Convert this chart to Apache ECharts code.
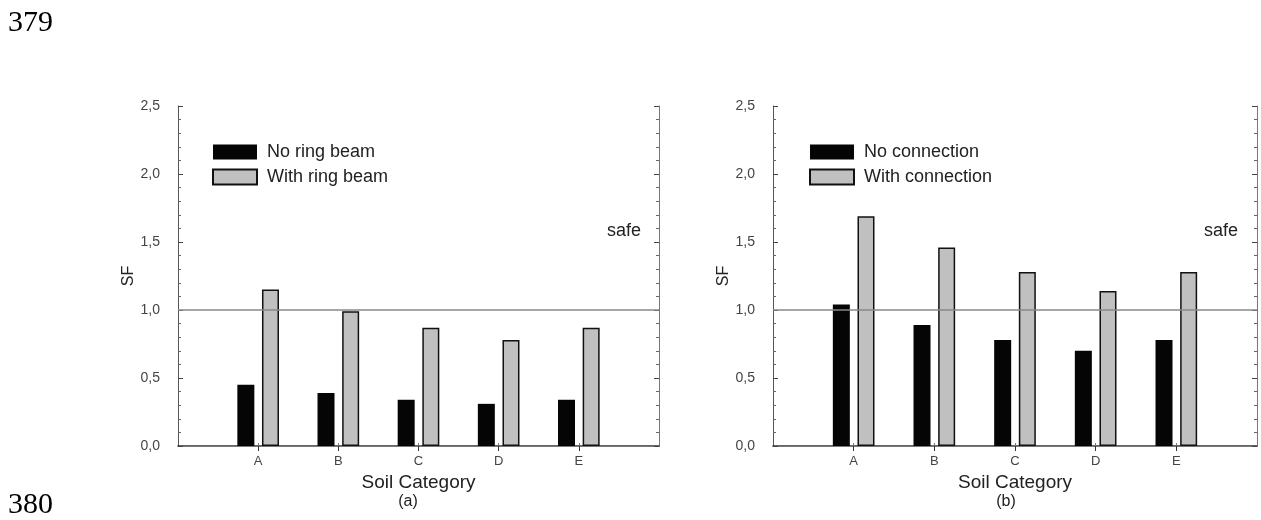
<!DOCTYPE html>
<html>
<head>
<meta charset="utf-8">
<script src="https://cdn.jsdelivr.net/npm/echarts@6/dist/echarts.min.js"></script>
<style>html,body{margin:0;padding:0;background:#fff}#c{width:1261px;height:520px}</style>
</head>
<body>
<div id="c"></div>
<script>
// ---- data ----
var categories = ['A', 'B', 'C', 'D', 'E'];
var yTicks = [0, 0.5, 1.0, 1.5, 2.0, 2.5];
var noRingBeam = [0.45, 0.39, 0.34, 0.31, 0.34];
var withRingBeam = [1.15, 0.99, 0.87, 0.78, 0.87];
var noConnection = [1.04, 0.89, 0.78, 0.70, 0.78];
var withConnection = [1.69, 1.46, 1.28, 1.14, 1.28];
var seriesNamesA = ['No ring beam', 'With ring beam'];
var seriesNamesB = ['No connection', 'With connection'];
var safeLevel = 1.0;

// padded category list (empty slots at both ends of the axis)
var cats = [''].concat(categories, ['']);
function pad(a) { return [null].concat(a, [null]); }

var chart = echarts.init(document.getElementById('c'), null, {renderer: 'canvas'});
var FONT = 'Liberation Sans, Arial, sans-serif';
var grids = [
  {left: 178, top: 106, width: 481, height: 340},
  {left: 773, top: 106, width: 484, height: 340}
];

function xBottom(gi) {
  return {
    type: 'category', gridIndex: gi, data: cats, boundaryGap: false, position: 'bottom',
    name: 'Soil Category', nameLocation: 'middle', nameGap: 25,
    nameTextStyle: {fontFamily: FONT, fontSize: 19, color: '#222'},
    axisLine: {show: true, lineStyle: {color: '#333', width: 1.5}},
    axisTick: {show: true, inside: true, length: 3, lineStyle: {color: '#777'},
      interval: function (i) { return i > 0 && i < cats.length - 1; }},
    axisLabel: {interval: 0, margin: 9, fontFamily: FONT, fontSize: 13, color: '#444'},
    splitLine: {show: false}
  };
}
function xTop(gi) {
  return {
    type: 'category', gridIndex: gi, data: cats, boundaryGap: false, position: 'top',
    axisLine: {show: true, lineStyle: {color: '#777', width: 1}},
    axisTick: {show: true, inside: true, length: 5, lineStyle: {color: '#333'},
      interval: function (i) { return i > 0 && i < cats.length - 1; }},
    axisLabel: {show: false}, splitLine: {show: false}
  };
}
function yAx(gi, pos) {
  var left = pos === 'left';
  return {
    type: 'value', gridIndex: gi, position: pos, min: yTicks[0], max: yTicks[yTicks.length - 1], interval: 0.5,
    name: left ? 'SF' : '', nameLocation: 'middle', nameGap: 41, nameRotate: 90,
    nameTextStyle: {fontFamily: FONT, fontSize: 16, color: '#222'},
    axisLine: {show: true, lineStyle: {color: left ? '#555' : '#777', width: 1}},
    axisTick: {show: true, inside: true, length: 5, lineStyle: {color: '#444'}},
    minorTick: {show: true, splitNumber: 5, length: 3, lineStyle: {color: '#666'}},
    axisLabel: {show: left, margin: 18, fontFamily: FONT, fontSize: 14, color: '#444',
      formatter: function (v) { return v.toFixed(1).replace('.', ','); }},
    splitLine: {show: false}, minorSplitLine: {show: false}
  };
}

function bars(name, data, gi, gray, withLine) {
  var s = {
    name: name, type: 'bar', xAxisIndex: gi * 2, yAxisIndex: gi * 2,
    data: pad(data), barWidth: 17, barGap: '45%',
    itemStyle: gray ? {color: '#c0c0c0', borderColor: '#111', borderWidth: 1.5}
                    : {color: '#050505', borderColor: '#050505', borderWidth: 0},
    emphasis: {disabled: true}, animation: false
  };
  if (withLine) {
    s.markLine = {
      silent: true, symbol: ['none', 'none'], label: {show: false},
      lineStyle: {color: '#888', width: 1.5, type: 'solid'},
      data: [{yAxis: safeLevel}]
    };
  }
  return s;
}

function legend(gi, names, left) {
  return {
    show: true, orient: 'vertical', left: left, top: 143, padding: 0,
    itemWidth: 44, itemHeight: 15, itemGap: 7,
    icon: 'rect', data: names, selectedMode: false,
    textStyle: {fontFamily: FONT, fontSize: 18, color: '#222', padding: [0, 0, 0, 5]}
  };
}

var option = {
  animation: false,
  backgroundColor: '#fff',
  grid: grids,
  xAxis: [xBottom(0), xTop(0), xBottom(1), xTop(1)],
  yAxis: [yAx(0, 'left'), yAx(0, 'right'), yAx(1, 'left'), yAx(1, 'right')],
  legend: [legend(0, seriesNamesA, 212), legend(1, seriesNamesB, 809)],
  series: [
    bars(seriesNamesA[0], noRingBeam, 0, false, true),
    bars(seriesNamesA[1], withRingBeam, 0, true, false),
    bars(seriesNamesB[0], noConnection, 1, false, true),
    bars(seriesNamesB[1], withConnection, 1, true, false)
  ],
  graphic: [
    {type: 'text', x: 607, y: 231, style: {text: 'safe', font: '18px ' + FONT, fill: '#222', textVerticalAlign: 'middle'}},
    {type: 'text', x: 1204, y: 231, style: {text: 'safe', font: '18px ' + FONT, fill: '#222', textVerticalAlign: 'middle'}},
    {type: 'text', x: 408, y: 502, style: {text: '(a)', font: '16px ' + FONT, fill: '#222', textAlign: 'center', textVerticalAlign: 'middle'}},
    {type: 'text', x: 1006, y: 502, style: {text: '(b)', font: '16px ' + FONT, fill: '#222', textAlign: 'center', textVerticalAlign: 'middle'}},
    {type: 'text', left: 8, top: 8, style: {text: '379', font: '30px Liberation Serif, Times New Roman, serif', fill: '#000'}},
    {type: 'text', left: 8, top: 490, style: {text: '380', font: '30px Liberation Serif, Times New Roman, serif', fill: '#000'}}
  ]
};
chart.setOption(option);
</script>
</body>
</html>
